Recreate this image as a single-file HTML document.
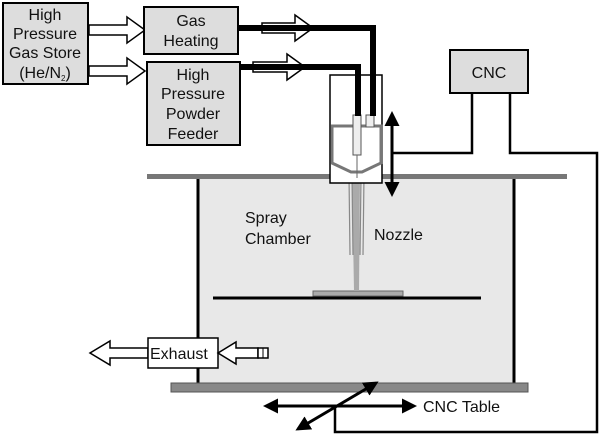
<!DOCTYPE html>
<html><head><meta charset="utf-8"><style>
body{margin:0;background:#fff}
text{font-family:"Liberation Sans",sans-serif;fill:#111}
</style></head><body>
<svg width="600" height="435" viewBox="0 0 600 435" xmlns="http://www.w3.org/2000/svg">
<defs>
<marker id="ah" viewBox="0 0 10 10" refX="8" refY="5" markerWidth="5" markerHeight="5" orient="auto-start-reverse"><path d="M0,0 L10,5 L0,10 z" fill="#000"/></marker>
</defs>
<rect x="197" y="178" width="318" height="207" fill="#e8e8e8"/>
<line x1="198" y1="178" x2="198" y2="385" stroke="#000" stroke-width="3"/>
<line x1="514" y1="178" x2="514" y2="385" stroke="#000" stroke-width="3"/>
<rect x="147" y="174" width="420" height="5" fill="#777"/>
<rect x="171" y="383" width="357" height="9" fill="#888" stroke="#555"/>
<line x1="213" y1="298" x2="481" y2="298" stroke="#000" stroke-width="3"/>
<rect x="313" y="291" width="90" height="5" fill="#aaa" stroke="#666"/>
<polygon points="352,178 360,178 359,291 354,291" fill="#aaa"/>
<path d="M349,176 L350,255 M364,176 L363,255 M352,176 L353,255 M361,176 L360,255" stroke="#888" stroke-width="1.2" fill="none"/>
<rect x="330" y="75" width="52" height="108" fill="#fff" stroke="#000" stroke-width="1.5"/>
<path d="M332,126 L381,126 L381,163 L362,172 L351,172 L332,163 Z" fill="#fff" stroke="#777" stroke-width="3"/>
<rect x="353" y="115" width="8" height="40" fill="#eee" stroke="#555"/>
<rect x="366" y="115" width="8" height="12" fill="#eee" stroke="#555"/>
<line x1="357" y1="155" x2="357" y2="178" stroke="#666"/>
<path d="M238,28 L373,28 L373,116" stroke="#000" stroke-width="6" fill="none"/>
<path d="M240,67 L358,67 L358,116" stroke="#000" stroke-width="6" fill="none"/>
<path d="M262,23 L295,23 L295,15 L313,28 L295,41 L295,33 L262,33 Z" fill="none" stroke="#000" stroke-width="1.5"/>
<path d="M253,62 L287,62 L287,54 L305,67 L287,80 L287,72 L253,72 Z" fill="none" stroke="#000" stroke-width="1.5"/>
<path d="M89,25 L127,25 L127,17 L145,30 L127,43 L127,35 L89,35 Z" fill="#fff" stroke="#000" stroke-width="1.5"/>
<path d="M89,66 L127,66 L127,58 L145,71 L127,84 L127,76 L89,76 Z" fill="#fff" stroke="#000" stroke-width="1.5"/>
<rect x="3" y="3" width="85" height="81" fill="#ddd" stroke="#000" stroke-width="2"/>
<text x="45" y="20" font-size="16" text-anchor="middle">High</text>
<text x="45" y="39" font-size="16" text-anchor="middle">Pressure</text>
<text x="45" y="58" font-size="16" text-anchor="middle">Gas Store</text>
<text x="45" y="78" font-size="16" text-anchor="middle">(He/N<tspan font-size="8" dy="3">2</tspan><tspan dy="-3">)</tspan></text>
<rect x="144" y="7" width="94" height="47" fill="#ddd" stroke="#000" stroke-width="2"/>
<text x="191" y="26" font-size="16" text-anchor="middle">Gas</text>
<text x="191" y="46" font-size="16" text-anchor="middle">Heating</text>
<rect x="147" y="62" width="93" height="83" fill="#ddd" stroke="#000" stroke-width="2"/>
<text x="193" y="80" font-size="16" text-anchor="middle">High</text>
<text x="193" y="99" font-size="16" text-anchor="middle">Pressure</text>
<text x="193" y="119" font-size="16" text-anchor="middle">Powder</text>
<text x="193" y="139" font-size="16" text-anchor="middle">Feeder</text>
<rect x="450" y="50" width="78" height="43" fill="#ddd" stroke="#000" stroke-width="2"/>
<text x="489" y="78" font-size="16" text-anchor="middle">CNC</text>
<path d="M472,93 L472,153 L392,153" stroke="#000" stroke-width="2.5" fill="none"/>
<path d="M510,93 L510,153 L597,153 L597,432 L335,432 L335,405" stroke="#000" stroke-width="2.5" fill="none"/>
<line x1="392" y1="114" x2="392" y2="194" stroke="#000" stroke-width="3" marker-start="url(#ah)" marker-end="url(#ah)"/>
<text x="245" y="223" font-size="16">Spray</text>
<text x="245" y="244" font-size="16">Chamber</text>
<text x="374" y="240" font-size="16">Nozzle</text>
<path d="M148,348 L110,348 L110,341 L90,353 L110,365 L110,358 L148,358 Z" fill="#fff" stroke="#000" stroke-width="1.5"/>
<rect x="148" y="338" width="70" height="30" fill="#fff" stroke="#000" stroke-width="1.5"/>
<text x="150" y="359" font-size="16">Exhaust</text>
<path d="M218,353 L236,342 L236,348 L258,348 L258,358 L236,358 L236,364 Z" fill="#fff" stroke="#000" stroke-width="1.5"/>
<rect x="258" y="348" width="10" height="10" fill="#fff" stroke="#000" stroke-width="1.5"/>
<line x1="263" y1="348" x2="263" y2="358" stroke="#000"/>
<line x1="266" y1="406" x2="414" y2="406" stroke="#000" stroke-width="3" marker-start="url(#ah)" marker-end="url(#ah)"/>
<line x1="298" y1="429" x2="376" y2="383" stroke="#000" stroke-width="3" marker-start="url(#ah)" marker-end="url(#ah)"/>
<text x="423" y="412" font-size="16">CNC Table</text>
</svg>
</body></html>
